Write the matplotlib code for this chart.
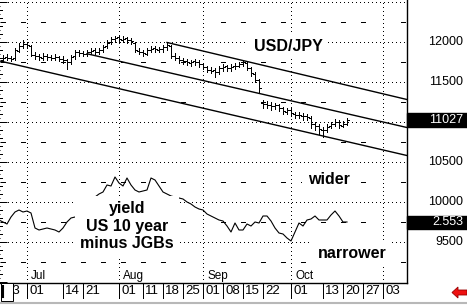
import numpy as np
import matplotlib
matplotlib.use('Agg')
import matplotlib.pyplot as plt
import matplotlib.transforms as mtransforms
from matplotlib.patches import Rectangle, Polygon

# first bar is Mon 23 Jun 2003, one bar per business day
start_day = '2003-06-23'

# USD/JPY x100, daily bars
opens = [11780, 11810, 11805, 11800, 11890, 11950, 11980, 11950, 11840, 11830,
         11800, 11830, 11815, 11795, 11815, 11790, 11770, 11745, 11820, 11870,
         11865, 11845, 11880, 11895, 11870, 11905, 11945, 11995, 12035, 12060,
         12030, 12045, 12020, 11990, 11890, 11880, 11855, 11895, 11920, 11900,
         11915, 11935, 11950, 11830, 11805, 11780, 11765, 11740, 11760, 11745,
         11720, 11685, 11655, 11645, 11620, 11680, 11695, 11670, 11695, 11705,
         11720, 11740, 11670, 11600, 11520, 11240, 11225, 11215, 11195, 11215,
         11170, 11130, 11155, 11105, 11090, 11080, 11070, 11050, 10980, 10945,
         10905, 10895, 10945, 10980, 11005, 10955, 10980]
highs = [11840, 11850, 11830, 11930, 11990, 12025, 12000, 11960, 11870, 11850,
         11860, 11850, 11840, 11850, 11830, 11820, 11790, 11840, 11900, 11900,
         11890, 11900, 11920, 11920, 11930, 11960, 12020, 12060, 12075, 12070,
         12070, 12060, 12050, 12000, 11920, 11900, 11930, 11950, 11950, 11940,
         11960, 11990, 11960, 11860, 11830, 11800, 11790, 11780, 11790, 11770,
         11740, 11700, 11690, 11670, 11700, 11720, 11710, 11720, 11740, 11750,
         11775, 11750, 11690, 11620, 11540, 11275, 11260, 11250, 11240, 11230,
         11190, 11180, 11180, 11130, 11120, 11110, 11100, 11070, 11000, 10980,
         10940, 10970, 11000, 11040, 11030, 11010, 11050]
lows = [11760, 11770, 11760, 11780, 11870, 11920, 11930, 11820, 11790, 11780,
        11780, 11780, 11770, 11770, 11760, 11740, 11660, 11730, 11790, 11830,
        11820, 11830, 11850, 11850, 11850, 11880, 11920, 11970, 12000, 12000,
        12000, 11990, 11980, 11880, 11850, 11830, 11840, 11870, 11880, 11870,
        11880, 11900, 11800, 11770, 11740, 11730, 11710, 11700, 11710, 11690,
        11660, 11620, 11610, 11560, 11600, 11640, 11640, 11640, 11660, 11690,
        11700, 11650, 11580, 11500, 11362, 11180, 11170, 11150, 11160, 11140,
        11100, 11100, 11070, 11050, 11050, 11030, 11020, 10930, 10900, 10850,
        10812, 10870, 10920, 10950, 10930, 10940, 10960]
closes = [11800, 11800, 11790, 11900, 11950, 11975, 11960, 11840, 11825, 11810,
          11825, 11810, 11800, 11810, 11790, 11775, 11750, 11810, 11875, 11860,
          11850, 11875, 11890, 11875, 11900, 11940, 11990, 12040, 12050, 12040,
          12040, 12025, 12010, 11900, 11875, 11860, 11900, 11910, 11910, 11910,
          11940, 11960, 11825, 11800, 11775, 11760, 11750, 11750, 11750, 11725,
          11690, 11650, 11640, 11625, 11675, 11690, 11675, 11690, 11700, 11725,
          11750, 11675, 11610, 11525, 11425, 11225, 11210, 11200, 11210, 11175,
          11135, 11150, 11110, 11085, 11085, 11075, 11060, 10975, 10950, 10910,
          10900, 10940, 10975, 11000, 10960, 10975, 11027]

# yield spread US 10 year minus JGBs, starting Fri 20 Jun
spread = [2.573, 2.553, 2.533, 2.603, 2.653, 2.673, 2.653, 2.663, 2.643, 2.493,
          2.473, 2.483, 2.493, 2.483, 2.473, 2.453, 2.493, 2.553, 2.593, 2.603,
          2.613, 2.673, 2.723, 2.773, 2.803, 2.833, 2.853, 2.923, 2.913, 3.003,
          2.943, 2.913, 2.993, 2.923, 2.873, 2.853, 2.863, 2.873, 2.993, 2.973,
          2.913, 2.853, 2.833, 2.813, 2.803, 2.793, 2.783, 2.753, 2.733, 2.703,
          2.683, 2.673, 2.633, 2.613, 2.593, 2.573, 2.563, 2.513, 2.453, 2.543,
          2.473, 2.473, 2.533, 2.513, 2.553, 2.543, 2.613, 2.613, 2.563, 2.493,
          2.443, 2.433, 2.393, 2.363, 2.453, 2.543, 2.513, 2.573, 2.583, 2.613,
          2.573, 2.573, 2.573, 2.623, 2.663, 2.613, 2.553, 2.553]

# trend channel lines
chan_start_dates = ['2003-06-20', '2003-07-22', '2003-08-19']
chan_start_vals = [11765, 11853, 11994]
chan_end_dates = ['2003-11-11', '2003-11-11', '2003-11-11']
chan_end_vals = [10581, 10931, 11281]

tick_dates = ['2003-06-23', '2003-07-01', '2003-07-14', '2003-07-21', '2003-08-01',
              '2003-08-11', '2003-08-18', '2003-08-25', '2003-09-01', '2003-09-08',
              '2003-09-15', '2003-09-22', '2003-10-01', '2003-10-13', '2003-10-20',
              '2003-10-27', '2003-11-03']
tick_labels = ['23', '01', '14', '21', '01', '11', '18', '25', '01', '08',
               '15', '22', '01', '13', '20', '27', '03']
month_dates = ['2003-07-01', '2003-08-01', '2003-09-01', '2003-10-01', '2003-11-03']
month_labels = ['Jul', 'Aug', 'Sep', 'Oct', '']

right_labels = [12000, 11500, 10500, 10000, 9500]


def day(d):
    # business-day index counted from the first bar
    return np.busday_count(start_day, d) if d >= start_day else -np.busday_count(d, start_day)


W, H = 467, 305
fig = plt.figure(figsize=(W / 100, H / 100), dpi=100)
ax = fig.add_axes([0, 22 / H, 407 / W, 283 / H])

lw = 0.72
dot = (0, (1, 3))
ax.set_xlim(-0.75, 101)
ax.set_ylim(8987.5, 12525)

# grid: dotted levels every 500, dotted month lines, dashes on mondays at half levels
for lev in range(9500, 12600, 500):
    ax.axhline(lev, color='black', lw=lw, linestyle=dot, zorder=1, antialiased=False)
mpos = [day(d) for d in month_dates]
for p in mpos:
    ax.axvline(p, color='black', lw=lw, linestyle=dot, zorder=1, antialiased=False)
mondays = [m for m in range(0, 101, 5) if m not in mpos]
for lev in range(9250, 12500, 500):
    ax.hlines([lev] * len(mondays), np.array(mondays) - 0.4, np.array(mondays) + 0.4,
              color='black', lw=lw, zorder=1, antialiased=False)
# left edge ticks
lev_small = np.arange(9000, 12600, 100)
ax.hlines(lev_small, -0.75, -0.3, color='black', lw=lw, zorder=1, antialiased=False)

# channel
for sd, sv, ed, ev in zip(chan_start_dates, chan_start_vals, chan_end_dates, chan_end_vals):
    ax.plot([day(sd), day(ed)], [sv, ev], color='black', lw=1.0, zorder=2)

# OHLC bars
xb = np.arange(len(closes))
ax.vlines(xb, lows, highs, color='black', lw=lw, zorder=3, antialiased=False)
ax.hlines(opens, xb - 0.5, xb, color='black', lw=lw, zorder=3, antialiased=False)
ax.hlines(closes, xb, xb + 0.5, color='black', lw=lw, zorder=3, antialiased=False)

# spines / ticks
for s in ['top', 'left']:
    ax.spines[s].set_visible(False)
ax.spines['right'].set_linewidth(1.0)
ax.spines['bottom'].set_linewidth(1.0)
ax.set_xticks([])
ax.yaxis.tick_right()
ax.set_yticks(range(9000, 12600, 500))
ax.set_yticks(np.arange(9000, 12550, 50), minor=True)
ax.tick_params(axis='y', which='major', direction='in', length=5, width=lw, labelright=False)
ax.tick_params(axis='y', which='minor', direction='out', length=2.5, width=lw, labelright=False)

bl = mtransforms.blended_transform_factory(ax.transData, ax.transAxes)
rb = mtransforms.blended_transform_factory(ax.transAxes, ax.transData)

# date axis under the plot
tpos = [day(d) for d in tick_dates]
ax.vlines(tpos, 0, -15 / 283, transform=bl, color='black', lw=lw, clip_on=False,
          antialiased=False)
for p, lab in zip(tpos, tick_labels):
    ax.text(p + 0.5, -0.008, lab, transform=bl, ha='left', va='top',
            fontsize=9.5, family='Liberation Sans')
for p, lab in zip(mpos, month_labels):
    ax.text(p + 1, 0.004, lab, transform=bl, ha='left', va='bottom',
            fontsize=8.5, family='Liberation Sans')

# right axis labels
for v in right_labels:
    ax.text(463 / 407, v, str(v), transform=rb, ha='right', va='center',
            fontsize=9, family='Liberation Sans')
ax.add_patch(Rectangle((1.0, closes[-1] - 87.5), 60 / 407, 175, transform=rb,
                       color='black', clip_on=False))
ax.text(463 / 407, closes[-1], str(closes[-1]), transform=rb, ha='right', va='center',
        fontsize=9, family='Liberation Sans', color='white')

# spread line on its own scale
ax2 = ax.twinx()
ax2.set_ylim(2.553 - 0.61, 2.553 + 2.22)
ax2.axis('off')
ax2.plot(np.arange(-1, len(spread) - 1), spread, color='black', lw=0.8, zorder=2)
rb2 = mtransforms.blended_transform_factory(ax2.transAxes, ax2.transData)
ax2.add_patch(Rectangle((1.0, spread[-1] - 0.065), 60 / 407, 0.13, transform=rb2,
                        color='black', clip_on=False))
ax2.text(463 / 407, spread[-1], f'{spread[-1]:.3f}', transform=rb2, ha='right',
         va='center', fontsize=9, family='Liberation Sans', color='white')

# annotations with white boxes
box = dict(facecolor='white', edgecolor='none', pad=4)
kw = dict(transform=ax.transData, fontsize=11.5, fontweight='bold',
          family='Liberation Sans', ha='center', va='center', bbox=box, zorder=5)
ax2.text(71.25, 11950, 'USD/JPY', **kw)
ax2.text(81.5, 10287, 'wider', **kw)
ax2.text(87.25, 9362, 'narrower', **kw)
ax2.text(31, 9700, 'yield\nUS 10 year\nminus JGBs', linespacing=1.2, **kw)

# bottom-left box and red arrow
fx = lambda px: px / W
fy = lambda py: (H - py) / H
fig.patches.append(Rectangle((fx(0.5), fy(301)), fx(12), 18 / H, transform=fig.transFigure,
                             facecolor='white', edgecolor='black', lw=lw))
fig.lines.append(plt.Line2D([fx(2.5), fx(2.5)], [fy(286), fy(297)], transform=fig.transFigure,
                            color='black', lw=1.5))
fig.lines.append(plt.Line2D([0, 1], [fy(302.5), fy(302.5)], transform=fig.transFigure,
                            color='#b8b8b8', lw=1.5))
arrow = [(452, 292.5), (458, 287), (458, 290), (467, 290), (467, 295), (458, 295), (458, 298)]
fig.patches.append(Polygon([(fx(a), fy(b)) for a, b in arrow], closed=True,
                           transform=fig.transFigure, facecolor='#ee1111', edgecolor='#990000', lw=0.6))

fig.savefig('out.png', dpi=100)
